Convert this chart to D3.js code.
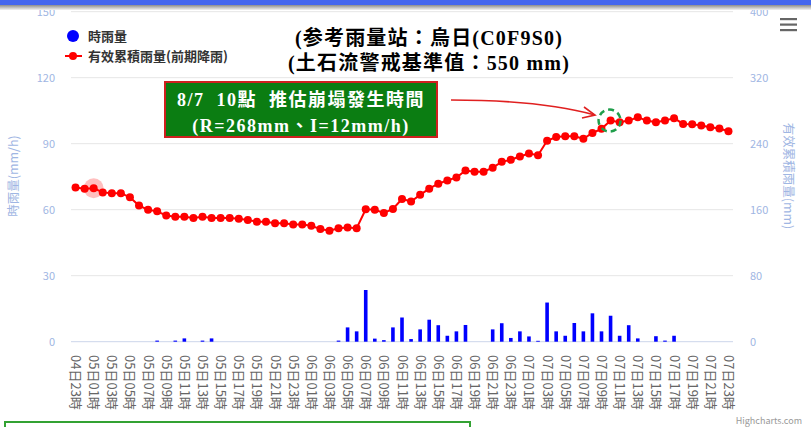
<!DOCTYPE html>
<html><head><meta charset="utf-8">
<script src="https://cdn.jsdelivr.net/npm/d3@7"></script>
<style>html,body{margin:0;padding:0;background:#fff;}svg{display:block;}</style>
</head><body>
<script>
const categories = [
"04日23時",
"05日00時","05日01時","05日02時","05日03時","05日04時","05日05時","05日06時","05日07時","05日08時","05日09時","05日10時","05日11時",
"05日12時","05日13時","05日14時","05日15時","05日16時","05日17時","05日18時","05日19時","05日20時","05日21時","05日22時","05日23時",
"06日00時","06日01時","06日02時","06日03時","06日04時","06日05時","06日06時","06日07時","06日08時","06日09時","06日10時","06日11時",
"06日12時","06日13時","06日14時","06日15時","06日16時","06日17時","06日18時","06日19時","06日20時","06日21時","06日22時","06日23時",
"07日00時","07日01時","07日02時","07日03時","07日04時","07日05時","07日06時","07日07時","07日08時","07日09時","07日10時","07日11時",
"07日12時","07日13時","07日14時","07日15時","07日16時","07日17時","07日18時","07日19時","07日20時","07日21時","07日22時","07日23時"
];
// 時雨量 (mm/h)
const hourlyRain = [
0,0,0,0,0,0,0,0,0,0.5,0,0.5,1.5,0,0.5,1.5,0,0,0,0,0,0,0,0,0,0,0,0,0,0.5,
6.5,4.7,23.5,1.4,0.7,6.5,11,1.2,5.6,10,7.5,2.7,4.7,7.6,0,0,5.6,8.4,1.7,4.7,
2.4,0.4,17.8,4.7,2.7,8.5,4.7,12.9,4.7,11.8,2.7,7.5,1.5,0,2.5,0.5,2.7,0,0,0,0,0,0
];
// 有效累積雨量(前期降雨) (mm)
const effectiveRain = [
187,185.5,186,181,180,180,175,165,160,158,153,151.5,151.5,150,151.5,150,150,150,149,147.5,
145.5,145.5,143.5,143.5,142,142,140.5,136.5,134.5,137.5,138.5,137.5,160.5,160,156,161,173,170,178,185.5,
191.5,195.5,199,207.5,206,206,211,218,220.5,224.5,228,226,243.5,248,249,249,246,253,258,268,
266,268,272,268,266,268,271,264,263.5,262,260,258.5,255
];
const leftTicks = [0,30,60,90,120,150];
const rightTicks = [0,80,160,240,320,400];
const xTickLabels = categories.filter((d,i)=> i%2===0);
const legendLabels = ["時雨量","有效累積雨量(前期降雨)"];
const titleLines = ["(参考雨量站：烏日(C0F9S0)","(土石流警戒基準值：550 mm)"];
const noteLines = ["8/7  10點  推估崩塌發生時間","(R=268mm、I=12mm/h)"];
const markedCategory = "07日10時";
const hoverCategory = "05日01時";

const W=811,H=427;
const svg=d3.select("body").append("svg").attr("width",W).attr("height",H);
const CJK='"Noto Sans CJK TC","Noto Sans",sans-serif';
const SERIF='"Liberation Serif","Times New Roman","Noto Sans CJK TC",serif';
const labelBlue="#9fb6e3";

const x=d3.scaleBand().domain(categories).range([71,733]);
const cx=c=>x(c)+x.bandwidth()/2;
const yL=d3.scaleLinear().domain([0,150]).range([341.7,11.7]);
const yR=d3.scaleLinear().domain([0,400]).range([341.7,11.7]);

// grid
svg.append("g").selectAll("line").data(leftTicks).join("line")
  .attr("x1",71).attr("x2",733).attr("y1",d=>yL(d)).attr("y2",d=>yL(d))
  .attr("stroke",d=>d===0?"#ccd6eb":"#e6e6e6").attr("stroke-width",1);

// left axis labels
svg.append("g").selectAll("text").data(leftTicks).join("text")
  .attr("x",55).attr("y",d=>yL(d)+4).attr("text-anchor","end")
  .attr("font-family",CJK).attr("font-size",11).attr("fill",labelBlue).text(d=>d);
// right axis labels
svg.append("g").selectAll("text").data(rightTicks).join("text")
  .attr("x",750).attr("y",d=>yR(d)+4).attr("text-anchor","start")
  .attr("font-family",CJK).attr("font-size",11).attr("fill",labelBlue).text(d=>d);

// axis titles
svg.append("text").attr("transform","translate(18,176) rotate(-90)").attr("text-anchor","middle")
  .attr("font-family",CJK).attr("font-size",12.5).attr("fill",labelBlue).text("時雨量(mm/h)");
svg.append("text").attr("transform","translate(784,176) rotate(90)").attr("text-anchor","middle")
  .attr("font-family",CJK).attr("font-size",12.5).attr("fill",labelBlue).text("有效累積雨量(mm)");

// x labels
svg.append("g").selectAll("text").data(xTickLabels).join("text")
  .attr("transform",d=>`translate(${cx(d)-4.5},355) rotate(90)`)
  .attr("text-anchor","start").attr("font-family",CJK).attr("font-size",13).attr("fill","#666").text(d=>d);

// bars
const bw=3.6;
svg.append("g").selectAll("rect").data(categories.map((c,i)=>({c,v:hourlyRain[i]})).filter(d=>d.v>0)).join("rect")
  .attr("x",d=>cx(d.c)-bw/2).attr("width",bw).attr("y",d=>yL(d.v)).attr("height",d=>yL(0)-yL(d.v))
  .attr("fill","#0000ff");

// hover halo
svg.append("circle").attr("cx",cx(hoverCategory)).attr("cy",yR(effectiveRain[categories.indexOf(hoverCategory)]))
  .attr("r",10).attr("fill","rgba(255,0,0,0.25)");

// line
const pts=categories.map((c,i)=>({c,v:effectiveRain[i]}));
svg.append("path").datum(pts).attr("d",d3.line().x(d=>cx(d.c)).y(d=>yR(d.v)))
  .attr("fill","none").attr("stroke","#ff0000").attr("stroke-width",2);
svg.append("g").selectAll("circle").data(pts).join("circle")
  .attr("cx",d=>cx(d.c)).attr("cy",d=>yR(d.v)).attr("r",4).attr("fill","#ff0000");

// dashed marker circle
const mi=categories.indexOf(markedCategory);
svg.append("circle").attr("cx",cx(markedCategory)-1).attr("cy",yR(effectiveRain[mi])).attr("r",11)
  .attr("fill","none").attr("stroke","#1f9e4b").attr("stroke-width",2.5).attr("stroke-dasharray","6,4");

// legend
svg.append("circle").attr("cx",73).attr("cy",36).attr("r",6).attr("fill","#0000ff");
svg.append("line").attr("x1",65).attr("x2",82).attr("y1",56).attr("y2",56).attr("stroke","#ff0000").attr("stroke-width",2);
svg.append("circle").attr("cx",73).attr("cy",56).attr("r",4).attr("fill","#ff0000");
svg.append("g").selectAll("text").data(legendLabels).join("text")
  .attr("x",88).attr("y",(d,i)=>36+i*20+4.5).attr("font-family",CJK).attr("font-size",13)
  .attr("font-weight","bold").attr("fill","#333").text(d=>d);

// title lines
svg.append("g").selectAll("text").data(titleLines).join("text")
  .attr("x",429).attr("y",(d,i)=>45+i*25).attr("text-anchor","middle")
  .attr("font-family",SERIF).attr("font-size",20).attr("letter-spacing",1.2).attr("font-weight","bold").attr("fill","#000").text(d=>d);

// annotation box
svg.append("rect").attr("x",165).attr("y",82).attr("width",272).attr("height",55)
  .attr("fill","#0b7d12").attr("stroke","#d02020").attr("stroke-width",2);
svg.append("g").selectAll("text").data(noteLines).join("text")
  .attr("x",301).attr("y",(d,i)=>106+i*26).attr("text-anchor","middle")
  .attr("font-family",SERIF).attr("font-size",18).attr("letter-spacing",1.5).attr("font-weight","bold").attr("fill","#fff")
  .attr("xml:space","preserve").style("white-space","pre").text(d=>d);

// arrow
const tipX=595,tipY=115;
svg.append("path").attr("d",`M451,100 Q540,100 ${tipX},${tipY}`).attr("fill","none").attr("stroke","#e02020").attr("stroke-width",1.6);
svg.append("path").attr("d",`M${tipX-11},${tipY-8} L${tipX},${tipY} L${tipX-13},${tipY+3}`).attr("fill","none").attr("stroke","#e02020").attr("stroke-width",1.6);

// menu icon
svg.append("g").selectAll("rect").data([0,1,2]).join("rect")
  .attr("x",780).attr("y",d=>18+d*5.5).attr("width",17).attr("height",2.2).attr("fill","#666");

// credits
svg.append("text").attr("x",802).attr("y",424).attr("text-anchor","end").attr("font-family",CJK)
  .attr("font-size",9).attr("fill","#999").text("Highcharts.com");

// top band
const defs=svg.append("defs");
const g1=defs.append("linearGradient").attr("id","shadow").attr("x1",0).attr("x2",0).attr("y1",0).attr("y2",1);
g1.append("stop").attr("offset",0).attr("stop-color","#8c8c8c");
g1.append("stop").attr("offset",1).attr("stop-color","#f2f2f2");
svg.append("rect").attr("x",0).attr("y",5).attr("width",W).attr("height",5).attr("fill","url(#shadow)");
svg.append("rect").attr("x",0).attr("y",0).attr("width",W).attr("height",5).attr("fill","#4466ee");

// bottom green box
svg.append("rect").attr("x",5).attr("y",422).attr("width",465).attr("height",20)
  .attr("fill","none").attr("stroke","#33a233").attr("stroke-width",2);
</script>
</body></html>
